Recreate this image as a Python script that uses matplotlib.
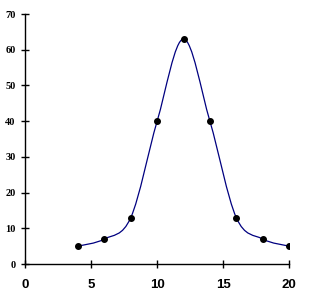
import matplotlib
matplotlib.use('Agg')
import matplotlib.pyplot as plt
from matplotlib.path import Path
from matplotlib.patches import PathPatch

# data
x_vals = [4, 6, 8, 10, 12, 14, 16, 18, 20]
y_vals = [5, 7, 13, 40, 63, 40, 13, 7, 5]
x_ticks = [0, 5, 10, 15, 20]
y_ticks = [0, 10, 20, 30, 40, 50, 60, 70]

fig = plt.figure(figsize=(3.12, 3.0), dpi=100)
ax = fig.add_axes([25.3 / 312, 36 / 300, 263.7 / 312, 250 / 300])

# smoothed line (like Excel's "smoothed line"): cubic bezier segments
verts = [(x_vals[0], y_vals[0])]
codes = [Path.MOVETO]
n = len(x_vals)
for i in range(n - 1):
    x0, y0 = x_vals[max(i - 1, 0)], y_vals[max(i - 1, 0)]
    x1, y1 = x_vals[i], y_vals[i]
    x2, y2 = x_vals[i + 1], y_vals[i + 1]
    x3, y3 = x_vals[min(i + 2, n - 1)], y_vals[min(i + 2, n - 1)]
    c1 = (x1 + (x2 - x0) / 6, y1 + (y2 - y0) / 6)
    c2 = (x2 - (x3 - x1) / 6, y2 - (y3 - y1) / 6)
    verts += [c1, c2, (x2, y2)]
    codes += [Path.CURVE4] * 3
ax.add_patch(PathPatch(Path(verts, codes), facecolor='none',
                       edgecolor='#000080', lw=0.9))

ax.plot(x_vals, y_vals, 'o', color='black', markersize=4, zorder=3)

ax.set_xlim(0, 20)
ax.set_ylim(0, 70)
ax.set_xticks(x_ticks)
ax.set_yticks(y_ticks)
for s in ['top', 'right']:
    ax.spines[s].set_visible(False)
for s in ['left', 'bottom']:
    ax.spines[s].set_linewidth(1.0)
ax.tick_params(axis='y', direction='inout', length=6, width=1.0, pad=4)
ax.tick_params(axis='x', direction='inout', length=6, width=1.0, pad=8)
for lab in ax.get_yticklabels():
    lab.set_fontfamily('Liberation Serif')
    lab.set_fontweight('bold')
    lab.set_fontsize(7.5)
for lab in ax.get_xticklabels():
    lab.set_fontfamily('Liberation Sans')
    lab.set_fontweight('bold')
    lab.set_fontsize(9.5)

fig.savefig('out.png', dpi=100)
